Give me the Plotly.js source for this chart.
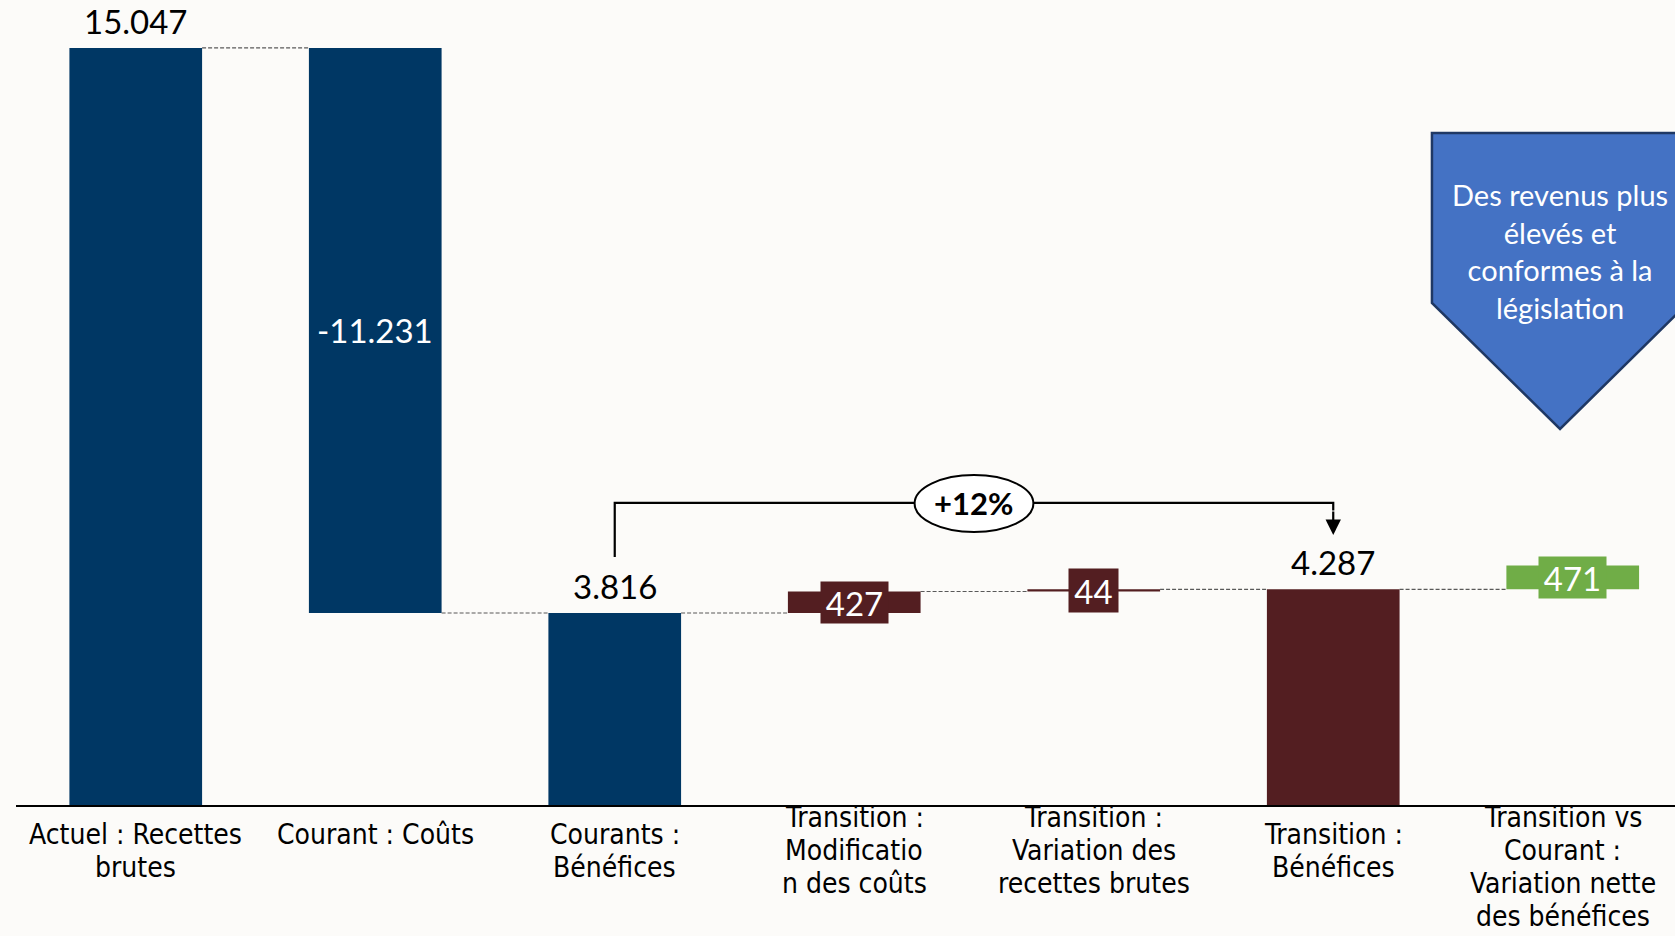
<!DOCTYPE html>
<html>
<head>
<meta charset="utf-8">
<script src="https://cdn.plot.ly/plotly-3.0.1.min.js"></script>
<style>
  html, body { margin: 0; padding: 0; background: #FCFBF9; }
  #chart { width: 1675px; height: 936px; }
</style>
</head>
<body>
<div id="chart"></div>
<script>
// ---- Data ----
const categories = [
  "Actuel : Recettes<br>brutes",
  "Courant : Coûts",
  "Courants :<br>Bénéfices",
  "Transition :<br>Modificatio<br>n des coûts",
  "Transition :<br>Variation des<br>recettes brutes",
  "Transition :<br>Bénéfices",
  "Transition vs<br>Courant :<br>Variation nette<br>des bénéfices"
];
const values = [15047, -11231, 3816, 427, 44, 4287, 471];
const measures = ["absolute", "relative", "total", "relative", "relative", "total", "relative"];
const calloutText = "Des revenus plus<br>élevés et<br>conformes à la<br>législation";

// ---- Styles ----
const NAVY = "#003764", MAROON = "#531E21", GREEN = "#70AD47";
const barColors = [NAVY, NAVY, NAVY, MAROON, MAROON, MAROON, GREEN];
const labelModes = ["above", "inside", "above", "box", "box", "above", "box"];
const BG = "#FCFBF9";
const FONT = "Lato, 'Open Sans', sans-serif";
const TICKFONT = "'Liberation Sans Narrow', 'DejaVu Sans Condensed', sans-serif";

function fmt(v) {
  const s = Math.abs(v).toString().replace(/\B(?=(\d{3})+(?!\d))/g, ".");
  return (v < 0 ? "-" : "") + s;
}

// Compute floating bar bases
const bases = [], heights = [], ends = [];
let running = 0;
values.forEach((v, i) => {
  const m = measures[i];
  if (m === "absolute") { bases.push(0); heights.push(v); running = v; }
  else if (m === "total") { bases.push(0); heights.push(running); }
  else { bases.push(running); heights.push(v); running += v; }
  ends.push(running);
});

const idx = categories.map((_, i) => i);
const HALF = 0.277;

const trace = {
  type: "bar",
  x: idx,
  y: heights,
  base: bases,
  width: HALF * 2,
  marker: { color: barColors, line: { width: 0 } },
  hoverinfo: "skip",
  showlegend: false
};

const annotations = [];
const shapes = [];

values.forEach((v, i) => {
  const top = Math.max(bases[i], bases[i] + heights[i]);
  const mid = bases[i] + heights[i] / 2;
  const mode = labelModes[i];
  if (mode === "above") {
    annotations.push({ x: i, y: top, xref: "x", yref: "y", text: fmt(v), showarrow: false,
      xanchor: "center", yanchor: "middle", yshift: 27, font: { family: FONT, size: 33, color: "#000" } });
  } else if (mode === "inside") {
    annotations.push({ x: i, y: mid, xref: "x", yref: "y", text: fmt(v), showarrow: false,
      xanchor: "center", yanchor: "middle", font: { family: FONT, size: 33, color: "#fff" } });
  } else {
    const txt = fmt(v);
    annotations.push({ x: i, y: mid, xref: "x", yref: "y", text: txt, showarrow: false,
      yanchor: "middle", xanchor: "center", bgcolor: barColors[i], borderpad: 0,
      width: txt.length >= 3 ? 67 : 49, height: txt.length >= 3 ? 41 : 43,
      font: { family: FONT, size: 33, color: "#fff" } });
  }
});

// category labels (one annotation per line, tight line spacing)
const LINE = 33.2;
categories.forEach((c, i) => {
  const lines = c.split("<br>");
  const first = lines.length >= 3 ? 12 : 29; // px below axis for first line centre
  const xs = lines.length >= 4 ? -10 : 0;
  lines.forEach((ln, j) => {
    annotations.push({ x: i, y: 0, xref: "x", yref: "paper", text: ln, showarrow: false,
      xanchor: "center", yanchor: "middle", yshift: -(first + j * LINE), xshift: xs,
      font: { family: TICKFONT, size: 28, color: "#000" } });
  });
});

// dashed connectors
for (let i = 0; i < values.length - 1; i++) {
  shapes.push({ type: "line", xref: "x", yref: "y", x0: i + HALF, x1: i + 1 - HALF,
    y0: ends[i], y1: ends[i], line: { color: "#595959", width: 1.2, dash: "4px,2px" }, layer: "below" });
}

// +12% bracket between bar 2 and bar 5
const pct = Math.round((ends[5] - ends[2]) / ends[2] * 100);
const yStart = 4929, yTop = 6003, yTip = 5367;
shapes.push({ type: "path", xref: "x", yref: "y",
  path: `M 2,${yStart} L 2,${yTop} L 5,${yTop} L 5,${yTop - 150}`,
  line: { color: "#000", width: 2.2 } });
annotations.push({ x: 5, y: yTip, ax: 5, ay: yTop - 140, xref: "x", yref: "y", axref: "x", ayref: "y",
  showarrow: true, arrowhead: 2, arrowsize: 1.4, arrowwidth: 2.2, arrowcolor: "#000", text: "" });
shapes.push({ type: "circle", xref: "x", yref: "y", x0: 3.5 - 0.248, x1: 3.5 + 0.248,
  y0: yTop - 576, y1: yTop + 556, fillcolor: "#fff", line: { color: "#000", width: 2 } });
annotations.push({ x: 3.5, y: yTop, xref: "x", yref: "y", text: "<b>+" + pct + "%</b>", showarrow: false,
  xanchor: "center", yanchor: "middle", font: { family: FONT, size: 31, color: "#000" } });

// callout pentagon
shapes.push({ type: "path", xref: "paper", yref: "paper",
  path: "M 0.8535,0.8348 L 0.8535,0.6236 L 0.9307,0.4671 L 1.0078,0.6236 L 1.0078,0.8348 Z",
  fillcolor: "#4472C4", line: { color: "#1F3864", width: 2.5 } });
annotations.push({ x: 0.9307, y: 0.6888, xref: "paper", yref: "paper", text: calloutText, showarrow: false,
  xanchor: "center", yanchor: "middle", align: "center", font: { family: FONT, size: 29, color: "#fff" } });

const layout = {
  width: 1675, height: 936,
  margin: { l: 16, r: 0, t: 0, b: 131 },
  paper_bgcolor: BG, plot_bgcolor: BG,
  xaxis: {
    type: "linear", range: [-0.5, 6.427],
    tickmode: "array", tickvals: idx, ticktext: categories,
    showticklabels: false,
    showline: true, linecolor: "#000", linewidth: 2,
    showgrid: false, zeroline: false, ticks: "",
    fixedrange: true
  },
  yaxis: { range: [0, 16000], visible: false, fixedrange: true },
  shapes: shapes,
  annotations: annotations,
  showlegend: false
};

Plotly.newPlot("chart", [trace], layout, { displayModeBar: false, staticPlot: true });
</script>
</body>
</html>
